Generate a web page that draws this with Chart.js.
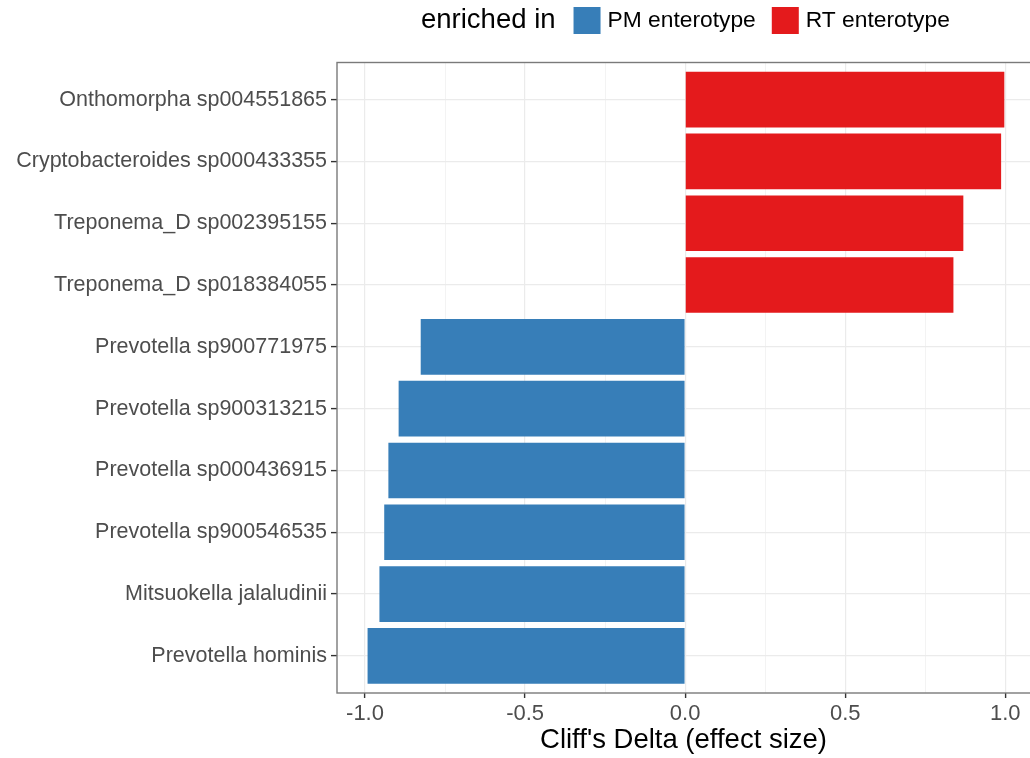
<!DOCTYPE html>
<html>
<head>
<meta charset="utf-8">
<script src="https://cdn.jsdelivr.net/npm/chart.js@4/dist/chart.umd.min.js"></script>
<style>
  html, body { margin: 0; padding: 0; background: #ffffff; }
  #wrap { width: 1030px; height: 758px; }
</style>
</head>
<body>
<div id="wrap"><canvas id="chart" width="1030" height="758"></canvas></div>
<script>
// Species ordered top to bottom
const species = [
  'Onthomorpha sp004551865',
  'Cryptobacteroides sp000433355',
  'Treponema_D sp002395155',
  'Treponema_D sp018384055',
  'Prevotella sp900771975',
  'Prevotella sp900313215',
  'Prevotella sp000436915',
  'Prevotella sp900546535',
  'Mitsuokella jalaludinii',
  'Prevotella hominis'
];
// Cliff's delta for each species
const cliffsDelta = [0.997, 0.987, 0.869, 0.838, -0.826, -0.895, -0.927, -0.940, -0.955, -0.992];
// Enterotype in which each species is enriched
const enrichedIn = ['RT', 'RT', 'RT', 'RT', 'PM', 'PM', 'PM', 'PM', 'PM', 'PM'];
// Legend groups
const groupKeys = ['PM', 'RT'];
const groupLabels = ['PM enterotype', 'RT enterotype'];
const groupColors = ['#377EB8', '#E41A1C'];
// Axis ticks
const xMajorTicks = [-1.0, -0.5, 0.0, 0.5, 1.0];
const xMinorTicks = [-0.75, -0.25, 0.25, 0.75];

const FONT = '"Liberation Sans", Arial, Helvetica, sans-serif';

const datasets = groupKeys.map((g, gi) => ({
  label: groupLabels[gi],
  backgroundColor: groupColors[gi],
  borderWidth: 0,
  data: species
    .map((s, i) => ({ x: cliffsDelta[i], y: i, g: enrichedIn[i] }))
    .filter(d => d.g === g)
}));

const isMajor = v => xMajorTicks.some(t => Math.abs(t - v) < 1e-9);

// Panel frame drawn over the bars, like a ggplot panel border
const panelBorder = {
  id: 'panelBorder',
  afterDatasetsDraw(chart) {
    const { ctx, chartArea: a } = chart;
    ctx.save();
    ctx.strokeStyle = '#7a7a7a';
    ctx.lineWidth = 1.4;
    ctx.strokeRect(a.left, a.top, a.right - a.left + 10, a.bottom - a.top);
    ctx.restore();
  }
};

// Horizontal legend with its title on the left
const topLegend = {
  id: 'topLegend',
  afterDraw(chart) {
    const { ctx } = chart;
    const cy = 20.5;
    let x = 421;
    ctx.save();
    ctx.textBaseline = 'middle';
    ctx.textAlign = 'left';
    ctx.fillStyle = '#000000';
    ctx.font = '27.5px ' + FONT;
    ctx.fillText('enriched in', x, cy);
    x += ctx.measureText('enriched in').width + 18;
    ctx.font = '22.8px ' + FONT;
    chart.data.datasets.forEach(ds => {
      ctx.fillStyle = ds.backgroundColor;
      ctx.fillRect(x, cy - 13.5, 27, 27);
      x += 27 + 7;
      ctx.fillStyle = '#000000';
      ctx.fillText(ds.label, x, cy);
      x += ctx.measureText(ds.label).width + 16;
    });
    ctx.restore();
  }
};

new Chart(document.getElementById('chart'), {
  type: 'bar',
  data: { datasets },
  options: {
    indexAxis: 'y',
    responsive: false,
    animation: false,
    layout: { padding: { top: 62.5, right: 0, bottom: 0, left: 0 } },
    datasets: { bar: { grouped: false, barPercentage: 0.9, categoryPercentage: 1.0 } },
    plugins: { legend: { display: false }, tooltip: { enabled: false } },
    scales: {
      x: {
        type: 'linear',
        min: -1.0875,
        max: 1.0772,
        afterBuildTicks: s => { s.ticks = xMajorTicks.concat(xMinorTicks).sort((a, b) => a - b).map(v => ({ value: v })); },
        afterFit: s => { s.height = 65; },
        border: { display: false },
        grid: {
          color: '#EBEBEB',
          lineWidth: c => (c.tick && isMajor(c.tick.value) ? 1.2 : 0.6),
          tickColor: c => (c.tick && isMajor(c.tick.value) ? '#333333' : 'rgba(0,0,0,0)'),
          tickLength: 5,
          tickWidth: 1.4
        },
        ticks: {
          autoSkip: false,
          maxRotation: 0,
          padding: 3,
          color: '#4D4D4D',
          font: { family: FONT, size: 22 },
          callback: v => (isMajor(v) ? v.toFixed(1) : '')
        },
        title: {
          display: true,
          text: "Cliff's Delta (effect size)",
          color: '#000000',
          font: { family: FONT, size: 27.5 },
          padding: { top: 0, bottom: 1 }
        }
      },
      y: {
        type: 'linear',
        reverse: true,
        offset: false,
        min: -0.6,
        max: species.length - 1 + 0.6,
        afterBuildTicks: s => { s.ticks = species.map((_, i) => ({ value: i })); },
        afterFit: s => { s.width = 337; },
        border: { display: false },
        grid: {
          offset: false,
          color: '#EBEBEB',
          lineWidth: 1.2,
          tickColor: '#333333',
          tickLength: 6,
          tickWidth: 1.4
        },
        ticks: {
          autoSkip: false,
          padding: 4,
          color: '#4D4D4D',
          font: { family: FONT, size: 21.5 },
          callback: v => species[v]
        }
      }
    }
  },
  plugins: [panelBorder, topLegend]
});
</script>
</body>
</html>
